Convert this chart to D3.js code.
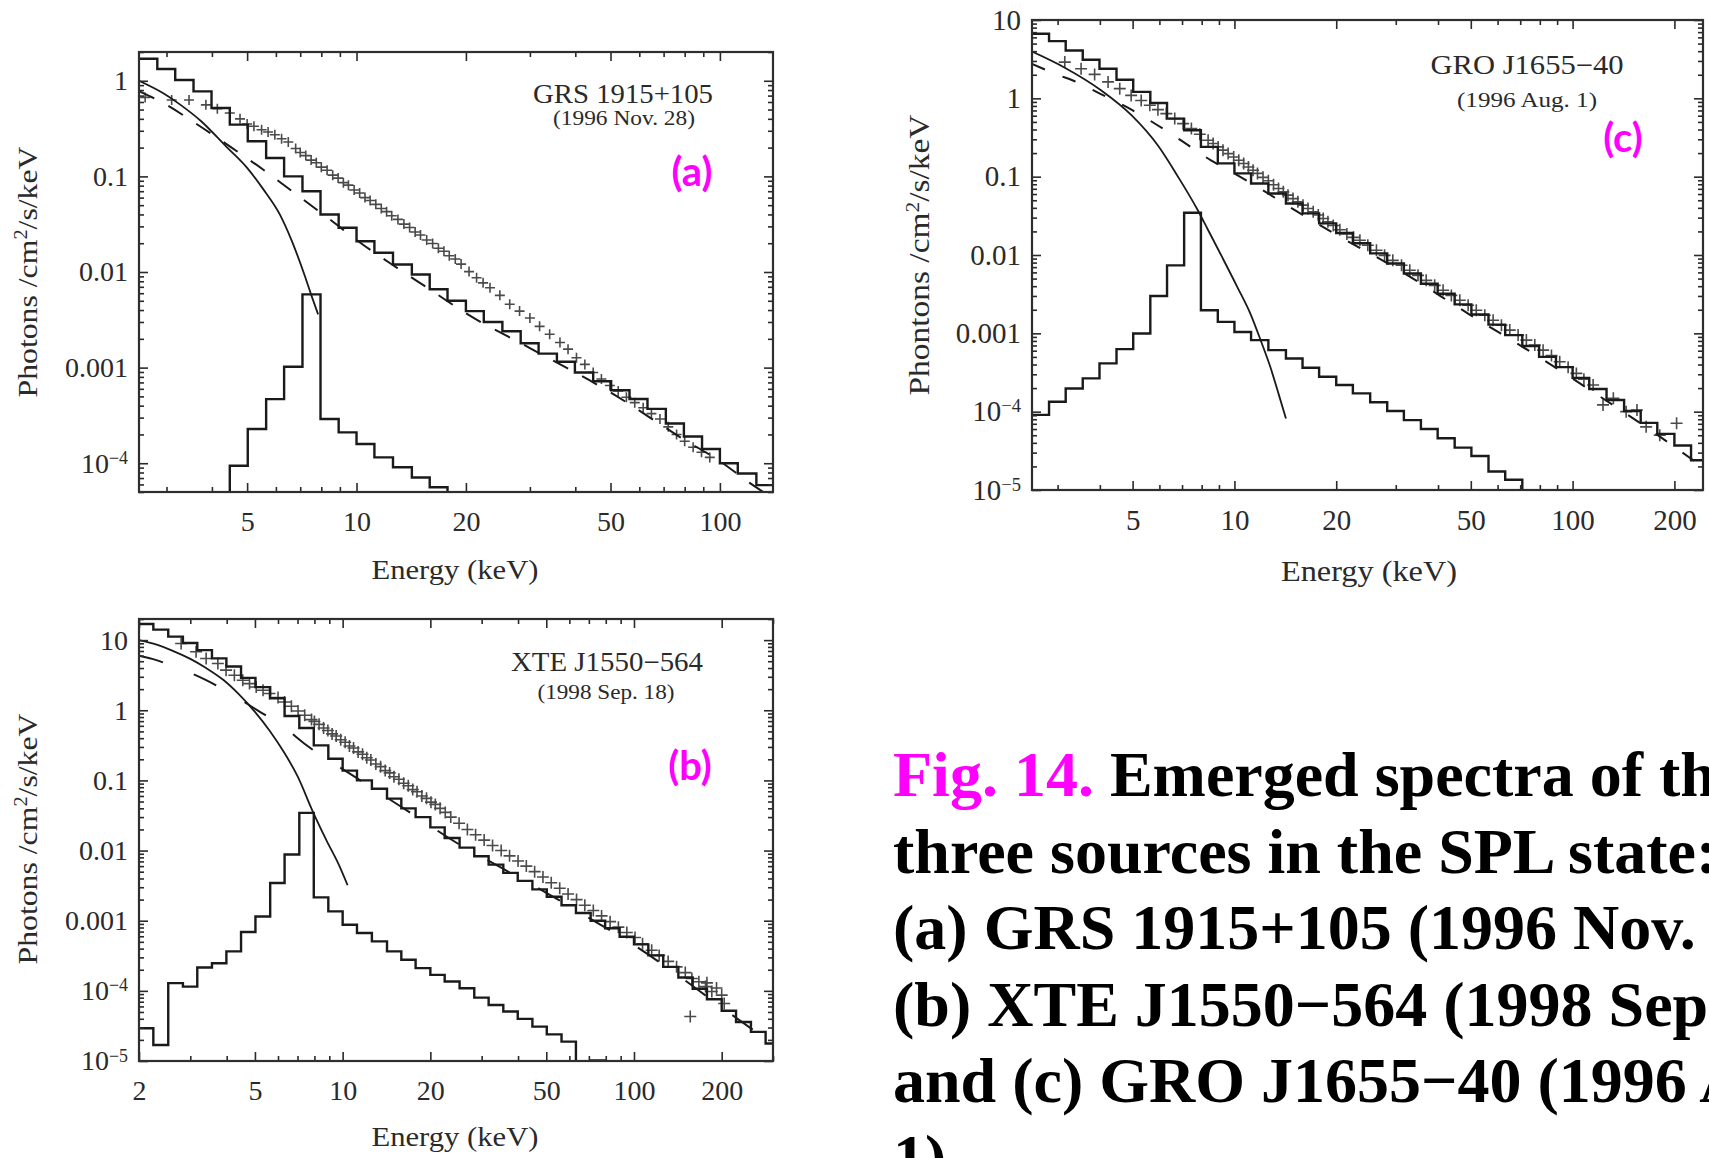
<!DOCTYPE html>
<html>
<head>
<meta charset="utf-8">
<script src="https://d3js.org/d3.v7.min.js"></script>
<style>
  body { margin: 0; background: #fff; }
  svg text { font-family: "Liberation Serif", "Times New Roman", serif; }
</style>
</head>
<body>
<svg id="fig" width="1709" height="1158"></svg>
<script>
// common energy bin edges (keV) of the model histograms
const energyEdges = [2.00, 2.24, 2.52, 2.83, 3.17, 3.56, 3.99, 4.48, 5.02, 5.64, 6.32, 7.10, 7.96, 8.93,
  10.0, 11.2, 12.6, 14.2, 15.9, 17.8, 20.0, 22.4, 25.2, 28.3, 31.7, 35.6, 39.9, 44.8, 50.2, 56.4,
  63.2, 71.0, 79.6, 89.3, 100, 112, 126, 142, 159, 178, 200, 224, 252, 283, 317, 355];

// ---- (a) GRS 1915+105
const domainA = {e: [2.52, 140], f: [5e-5, 2]};
const xTicksA = [5, 10, 20, 50, 100];
const yTicksA = [1, 0.1, 0.01, 0.001, 1e-4];
const totalA = {from: 2, flux: [1.70, 1.33, 1.02, 0.774, 0.519, 0.348, 0.233, 0.156, 0.100, 0.070, 0.040,
  0.029, 0.021, 0.0159, 0.0120, 0.0094, 0.0066, 0.0050, 0.0039, 0.0030, 0.0024, 0.0018, 0.0014, 0.00115,
  0.00089, 0.00072, 0.00058, 0.00047, 0.00037, 0.00026, 0.00019, 0.000141, 0.000100, 0.000078, 0.000059]};
const ironA = {from: 6, flux: [3.0e-5, 9.4e-5, 2.28e-4, 4.68e-4, 1.02e-3, 5.83e-3, 2.9e-4, 2.1e-4, 1.59e-4,
  1.15e-4, 9.06e-5, 7.1e-5, 5.6e-5, 3.5e-5]};
const powerA = [[2.52, 0.78], [2.94, 0.585], [3.63, 0.353], [4.48, 0.206], [5.53, 0.118], [6.84, 0.0646],
  [8.45, 0.0354], [10.4, 0.0194], [12.9, 0.0111], [15.9, 0.0066], [20, 0.0037], [30, 0.0016], [50, 0.00055],
  [80, 0.000175], [100, 0.000105], [121, 6.2e-5], [140, 4.3e-5]];
const thermalA = [[2.52, 1.0], [2.94, 0.74], [3.3, 0.55], [3.73, 0.38], [4.38, 0.205], [4.98, 0.125],
  [5.53, 0.074], [6.15, 0.040], [6.64, 0.021], [7.2, 0.0092], [7.5, 0.0058], [7.84, 0.0036]];
const crossesA = [[2.62, 0.67], [3.10, 0.63], [3.46, 0.63], [3.85, 0.56], [4.14, 0.51], [4.48, 0.46],
  [4.78, 0.40], [5.00, 0.353], [5.22, 0.334], [5.48, 0.308], [5.71, 0.291], [5.96, 0.273], [6.22, 0.248],
  [6.49, 0.229], [6.80, 0.196], [7.00, 0.178], [7.25, 0.165], [7.50, 0.148], [7.75, 0.139], [8.00, 0.125],
  [8.30, 0.116], [8.60, 0.103], [8.90, 0.096], [9.20, 0.086], [9.50, 0.081], [9.85, 0.072], [10.2, 0.067],
  [10.55, 0.060], [10.9, 0.056], [11.3, 0.051], [11.7, 0.0462], [12.1, 0.0428], [12.5, 0.0388], [13.0, 0.0355],
  [13.5, 0.0317], [14.0, 0.0292], [14.5, 0.0262], [15.0, 0.0244], [15.6, 0.0216], [16.2, 0.0199], [16.8, 0.0177],
  [17.4, 0.0165], [18.0, 0.0148], [18.7, 0.0137], [19.4, 0.0121], [20.4, 0.0101], [21.4, 0.0087], [22.3, 0.0077],
  [23.3, 0.00685], [24.8, 0.0057], [26.4, 0.0046], [28.1, 0.0039], [30.0, 0.0033], [31.9, 0.0027], [34.0, 0.00223],
  [36.3, 0.00183], [38.2, 0.00156], [40.3, 0.00127], [42.5, 0.00108], [44.8, 0.00089], [47.2, 0.00076],
  [49.8, 0.00065], [52.5, 0.00057], [55.3, 0.00049], [58.3, 0.00043], [61.5, 0.00038], [64.8, 0.00033],
  [68.4, 0.00029], [72.1, 0.00024], [76.0, 0.00020], [80.0, 0.00017], [84.4, 0.000147], [89.0, 0.00013],
  [93.8, 0.000115]];

// ---- (b) XTE J1550-564
const domainB = {e: [2, 300], f: [1e-5, 20]};
const xTicksB = [2, 5, 10, 20, 50, 100, 200];
const yTicksB = [10, 1, 0.1, 0.01, 0.001, 1e-4, 1e-5];
const totalB = {from: 0, flux: [17.0, 14.1, 11.2, 9.1, 7.2, 5.5, 4.2, 2.9, 2.14, 1.48, 0.83, 0.56, 0.316,
  0.204, 0.138, 0.100, 0.076, 0.055, 0.040, 0.030, 0.0214, 0.0151, 0.0110, 0.0083, 0.0063, 0.0048, 0.0037,
  0.0028, 0.0022, 0.00166, 0.00129, 0.00100, 0.00078, 0.00059, 0.00046, 0.00032, 0.00022, 0.000155,
  0.000107, 0.000076, 0.000052, 0.000036, 0.000026, 0.0000178]};
const ironB = {from: 0, flux: [2.93e-5, 1.69e-5, 1.29e-4, 1.15e-4, 2.15e-4, 2.48e-4, 3.65e-4, 6.89e-4, 1.15e-3,
  3.45e-3, 8.77e-3, 0.0345, 2.15e-3, 1.36e-3, 8.77e-4, 6.67e-4, 5.07e-4, 3.65e-4, 2.77e-4, 2.11e-4, 1.69e-4,
  1.36e-4, 1.09e-4, 8.0e-5, 6.3e-5, 5.07e-5, 3.98e-5, 3.09e-5, 2.4e-5, 1.89e-5, 8e-6, 1.02e-5, 6e-6]};
const powerB = [[2.0, 6.0], [2.22, 5.4], [2.6, 4.3], [3.4, 2.69], [4.2, 1.65], [5.12, 0.99], [6.2, 0.60],
  [7.5, 0.32], [8.8, 0.20], [10, 0.145], [13, 0.072], [17, 0.035], [25, 0.0124], [35, 0.0057], [50, 0.0025],
  [70, 0.0011], [100, 0.00045], [150, 0.00014], [200, 0.000058], [300, 0.0000175]];
const thermalB = [[2.0, 10.0], [2.3, 8.6], [2.6, 7.1], [3.0, 5.4], [3.4, 4.0], [3.9, 2.7], [4.4, 1.7],
  [5.0, 0.95], [5.6, 0.52], [6.3, 0.25], [7.0, 0.115], [7.9, 0.036], [8.8, 0.014], [9.7, 0.0063], [10.4, 0.0032]];
const crossesB = [[2.79, 8.96], [3.14, 6.81], [3.40, 5.47], [3.73, 4.64], [3.98, 3.73], [4.25, 3.16],
  [4.54, 2.68], [4.79, 2.40], [5.05, 2.15], [5.33, 1.93], [5.61, 1.73], [6.00, 1.52], [6.32, 1.31], [6.67, 1.14],
  [7.03, 0.977], [7.41, 0.849], [7.82, 0.736], [8.0, 0.69], [8.3, 0.63], [8.6, 0.56], [8.9, 0.515], [9.2, 0.46],
  [9.5, 0.43], [9.85, 0.38], [10.2, 0.35], [10.55, 0.31], [10.9, 0.29], [11.3, 0.255], [11.7, 0.236],
  [12.1, 0.21], [12.5, 0.195], [13.0, 0.171], [13.5, 0.157], [14.0, 0.138], [14.5, 0.128], [15.0, 0.113],
  [15.6, 0.104], [16.2, 0.091], [16.8, 0.084], [17.4, 0.074], [18.0, 0.069], [18.7, 0.060], [19.4, 0.0555],
  [20.1, 0.049], [20.8, 0.0455], [21.6, 0.040], [22.5, 0.035], [23.5, 0.030], [25.1, 0.0245], [26.8, 0.020],
  [28.6, 0.0168], [30.6, 0.0141], [32.7, 0.0118], [35.0, 0.0100], [37.4, 0.0084], [40.0, 0.0071],
  [42.7, 0.0060], [45.6, 0.0050], [48.7, 0.0042], [52.0, 0.00347], [55.6, 0.0029], [59.4, 0.0024],
  [63.5, 0.0020], [67.8, 0.00166], [72.5, 0.0014], [77.4, 0.00117], [82.8, 0.00097], [88.4, 0.00081],
  [94.5, 0.00068], [100.8, 0.000575], [107, 0.00047], [115, 0.00038], [122, 0.00032], [131, 0.000263],
  [140, 0.00022], [150, 0.000182], [158, 0.00015], [167, 0.000135], [176, 0.000115], [178, 0.00013],
  [185, 0.000098], [192, 0.00011], [200, 0.000087], [204, 0.000066], [156, 0.000043]];

// ---- (c) GRO J1655-40
const domainC = {e: [2.52, 243], f: [1e-5, 10]};
const xTicksC = [5, 10, 20, 50, 100, 200];
const yTicksC = [10, 1, 0.1, 0.01, 0.001, 1e-4, 1e-5];
const totalC = {from: 2, flux: [6.67, 5.37, 4.08, 3.11, 2.39, 1.73, 1.21, 0.873, 0.551, 0.391, 0.240, 0.148,
  0.110, 0.0818, 0.0611, 0.0455, 0.0340, 0.0253, 0.0191, 0.0141, 0.0105, 0.0078, 0.0058, 0.0043, 0.0032,
  0.00234, 0.00174, 0.00129, 0.00095, 0.00069, 0.00050, 0.00037, 0.00027, 0.000195, 0.000141, 0.000102,
  0.000072, 0.000052, 0.000037, 0.000024]};
const ironC = {from: 2, flux: [9.1e-5, 1.34e-4, 1.98e-4, 2.66e-4, 4.13e-4, 6.29e-4, 9.95e-4, 3.0e-3, 7.38e-3,
  0.0346, 1.97e-3, 1.4e-3, 1.04e-3, 8.18e-4, 6.1e-4, 4.78e-4, 3.64e-4, 2.79e-4, 2.19e-4, 1.71e-4, 1.32e-4,
  1.02e-4, 7.8e-5, 6.0e-5, 4.57e-5, 3.48e-5, 2.72e-5, 1.72e-5, 1.35e-5, 5e-6]};
const powerC = [[2.52, 2.75], [3.0, 2.0], [3.33, 1.69], [4.0, 1.15], [4.84, 0.76], [5.94, 0.45], [7.13, 0.27],
  [8.55, 0.16], [10, 0.11], [12, 0.069], [15, 0.038], [20, 0.0182], [30, 0.0068], [50, 0.0017],
  [80, 0.00049], [120, 0.000158], [170, 0.000058], [243, 0.0000195]];
const thermalC = [[2.52, 3.95], [3.15, 2.46], [4.04, 1.26], [4.96, 0.61], [5.94, 0.25], [6.81, 0.10],
  [7.8, 0.037], [8.35, 0.021], [9.15, 0.0098], [10.2, 0.0039], [11.2, 0.0017], [12.0, 0.00078],
  [12.8, 0.00036], [13.5, 0.00017], [14.2, 0.000082]];
const crossesC = [[3.15, 2.9], [3.52, 2.39], [3.86, 2.02], [4.23, 1.62], [4.58, 1.33], [4.95, 1.09],
  [5.30, 0.94], [5.62, 0.815], [5.94, 0.717], [6.29, 0.638], [6.66, 0.551], [7.05, 0.475], [7.46, 0.411],
  [7.90, 0.348], [8.36, 0.292], [8.65, 0.265], [8.95, 0.24], [9.25, 0.218], [9.58, 0.197], [9.95, 0.178],
  [10.3, 0.162], [10.65, 0.147], [11.0, 0.133], [11.35, 0.121], [11.7, 0.11], [12.15, 0.098], [12.6, 0.0885],
  [13.05, 0.079], [13.5, 0.0707], [13.95, 0.064], [14.4, 0.0581], [14.9, 0.0525], [15.4, 0.0478],
  [15.95, 0.0433], [16.5, 0.0393], [17.1, 0.0357], [17.7, 0.0324], [18.3, 0.0293], [18.9, 0.0266],
  [19.6, 0.0238], [20.5, 0.021], [21.5, 0.0185], [22.5, 0.0168], [23.5, 0.0154], [24.8, 0.0133],
  [26.3, 0.0115], [27.8, 0.0099], [29.4, 0.00855], [31.2, 0.0074], [33.0, 0.00638], [34.9, 0.0055],
  [36.9, 0.00475], [39.1, 0.0041], [41.4, 0.00355], [43.8, 0.00305], [46.4, 0.00265], [49.1, 0.00228],
  [51.9, 0.00197], [55.0, 0.0017], [58.2, 0.00147], [61.6, 0.00127], [65.2, 0.0011], [69.0, 0.00095],
  [73.0, 0.00082], [77.3, 0.00071], [81.8, 0.00061], [86.6, 0.00052], [91.6, 0.000434], [97.0, 0.00037],
  [102.6, 0.000308], [108, 0.00026], [115, 0.000219], [123, 0.000122], [132, 0.000148], [144, 0.0001],
  [155, 0.000105], [165, 0.000064], [181, 0.00005], [203, 0.000071]];

const svg = d3.select("#fig");
const defs = svg.append("defs");
const ink = "#1a1a1a";

function histPoints(h) {
  const pts = h.flux.map((f, i) => [energyEdges[h.from + i], f]);
  pts.push([energyEdges[h.from + h.flux.length], h.flux[h.flux.length - 1]]);
  return pts;
}

function drawPanel(p) {
  const x = d3.scaleLog().domain(p.dom.e).range([p.left, p.right]);
  const y = d3.scaleLog().domain(p.dom.f).range([p.bottom, p.top]);
  const g = svg.append("g");

  defs.append("clipPath").attr("id", "clip-" + p.id).append("rect")
    .attr("x", p.left).attr("y", p.top)
    .attr("width", p.right - p.left).attr("height", p.bottom - p.top);
  const plot = g.append("g").attr("clip-path", "url(#clip-" + p.id + ")");

  // data points
  const cs = p.cross;
  plot.append("path")
    .attr("d", p.crosses.map(d => {
      const cx = x(d[0]), cy = y(d[1]);
      return "M" + (cx - cs) + "," + cy + "H" + (cx + cs) + "M" + cx + "," + (cy - cs) + "V" + (cy + cs);
    }).join(""))
    .attr("fill", "none").attr("stroke", "#4a4a4a").attr("stroke-width", 1.6);

  const smooth = d3.line().x(d => x(d[0])).y(d => y(d[1])).curve(d3.curveMonotoneX);
  const step = d3.line().x(d => x(d[0])).y(d => y(d[1])).curve(d3.curveStepAfter);

  plot.append("path").attr("d", smooth(p.power))
    .attr("fill", "none").attr("stroke", ink).attr("stroke-width", 2)
    .attr("stroke-dasharray", p.dash);
  plot.append("path").attr("d", smooth(p.thermal))
    .attr("fill", "none").attr("stroke", ink).attr("stroke-width", 1.8);
  plot.append("path").attr("d", step(histPoints(p.iron)))
    .attr("fill", "none").attr("stroke", ink).attr("stroke-width", 2.4);
  plot.append("path").attr("d", step(histPoints(p.total)))
    .attr("fill", "none").attr("stroke", ink).attr("stroke-width", 2.4);

  // axes: ticks on all four sides, pointing inward
  const fs = p.fs;
  const xMinor = x.ticks().filter(v => !p.xTicks.includes(v));
  const yMinor = y.ticks().filter(v => !p.yTicks.some(t => Math.abs(t - v) / t < 1e-6));

  function axis(gen, scale, vals, len, tx, ty, labels) {
    const a = g.append("g").attr("transform", "translate(" + tx + "," + ty + ")")
      .call(gen(scale).tickValues(vals).tickSize(-len)
        .tickPadding(labels ? labels.pad : 0)
        .tickFormat(labels ? labels.fmt : ""));
    a.select(".domain").remove();
    a.attr("font-family", null).attr("font-size", fs).attr("color", "#2a2a2a");
    a.selectAll(".tick line").attr("stroke-width", 1.6);
    return a;
  }
  axis(d3.axisBottom, x, p.xTicks, 9, 0, p.bottom, {pad: 19, fmt: d => String(d)});
  axis(d3.axisBottom, x, xMinor, 5, 0, p.bottom);
  axis(d3.axisTop, x, p.xTicks, 9, 0, p.top);
  axis(d3.axisTop, x, xMinor, 5, 0, p.top);
  const left = axis(d3.axisLeft, y, p.yTicks, 9, p.left, 0, {pad: 11, fmt: d => String(d)});
  axis(d3.axisLeft, y, yMinor, 5, p.left, 0);
  axis(d3.axisRight, y, p.yTicks, 9, p.right, 0);
  axis(d3.axisRight, y, yMinor, 5, p.right, 0);

  left.selectAll(".tick text").each(function(d) {
    const ex = Math.round(Math.log10(d));
    if (ex <= -4) {
      const t = d3.select(this).text(null);
      t.append("tspan").text("10");
      t.append("tspan").attr("dy", "-0.5em").attr("font-size", fs * 0.64).text("\u2212" + (-ex));
    }
  });

  g.append("rect")
    .attr("x", p.left).attr("y", p.top)
    .attr("width", p.right - p.left).attr("height", p.bottom - p.top)
    .attr("fill", "none").attr("stroke", "#2e2e2e").attr("stroke-width", 2.2);

  // titles
  const yt = g.append("text")
    .attr("transform", "translate(" + p.ylab[0] + "," + p.ylab[1] + ") rotate(-90)")
    .attr("text-anchor", "middle").attr("font-size", fs).attr("fill", "#2a2a2a")
    .attr("textLength", p.ylab[2]).attr("lengthAdjust", "spacingAndGlyphs");
  yt.append("tspan").text(p.yword + " /cm");
  yt.append("tspan").attr("dy", -10).attr("font-size", fs * 0.64).text("2");
  yt.append("tspan").attr("dy", 10).text("/s/keV");

  g.append("text").attr("x", p.xlab[0]).attr("y", p.xlab[1])
    .attr("text-anchor", "middle").attr("font-size", fs).attr("fill", "#2a2a2a")
    .attr("textLength", p.xlab[2]).attr("lengthAdjust", "spacingAndGlyphs")
    .text("Energy (keV)");

  // source name and date
  g.append("text").attr("x", p.name[0]).attr("y", p.name[1])
    .attr("text-anchor", "middle").attr("font-size", 27).attr("fill", "#2a2a2a")
    .attr("textLength", p.name[2]).attr("lengthAdjust", "spacingAndGlyphs")
    .text(p.source);
  g.append("text").attr("x", p.date[0]).attr("y", p.date[1])
    .attr("text-anchor", "middle").attr("font-size", 20).attr("fill", "#2a2a2a")
    .attr("textLength", p.date[2]).attr("lengthAdjust", "spacingAndGlyphs")
    .text(p.when);

  g.append("text").attr("x", p.tag[0]).attr("y", p.tag[1])
    .attr("text-anchor", "middle")
    .style("font-family", "Lato, 'Open Sans', sans-serif").attr("font-weight", 700)
    .attr("font-size", 40).attr("fill", "#ff00ff")
    .text(p.letter);
}

drawPanel({
  id: "a", dom: domainA, xTicks: xTicksA, yTicks: yTicksA,
  total: totalA, iron: ironA, power: powerA, thermal: thermalA, crosses: crossesA,
  left: 139, right: 773, top: 52, bottom: 492, fs: 28, dash: "17,16", cross: 5,
  yword: "Photons", ylab: [37, 272, 251], xlab: [455, 579, 167],
  source: "GRS 1915+105", when: "(1996 Nov. 28)", name: [623, 103, 180], date: [624, 125, 142],
  letter: "(a)", tag: [692, 186]
});
drawPanel({
  id: "b", dom: domainB, xTicks: xTicksB, yTicks: yTicksB,
  total: totalB, iron: ironB, power: powerB, thermal: thermalB, crosses: crossesB,
  left: 139, right: 773, top: 619, bottom: 1061, fs: 28, dash: "25,33", cross: 6,
  yword: "Photons", ylab: [37, 839, 251], xlab: [455, 1146, 167],
  source: "XTE J1550\u2212564", when: "(1998 Sep. 18)", name: [607, 671, 192], date: [606, 699, 137],
  letter: "(b)", tag: [690, 780]
});
drawPanel({
  id: "c", dom: domainC, xTicks: xTicksC, yTicks: yTicksC,
  total: totalC, iron: ironC, power: powerC, thermal: thermalC, crosses: crossesC,
  left: 1032, right: 1703, top: 20, bottom: 490, fs: 29, dash: "14,19", cross: 6,
  yword: "Phontons", ylab: [929, 255, 281], xlab: [1369, 581, 176],
  source: "GRO J1655\u221240", when: "(1996 Aug. 1)", name: [1527, 74, 193], date: [1527, 107, 140],
  letter: "(c)", tag: [1623, 152]
});

// figure caption (runs past the right edge, as in the source page)
const captionLines = [
  ["Fig. 14.", " Emerged spectra of the"],
  ["", "three sources in the SPL state:"],
  ["", "(a) GRS 1915+105 (1996 Nov. 28),"],
  ["", "(b) XTE J1550\u2212564 (1998 Sep. 18),"],
  ["", "and (c) GRO J1655\u221240 (1996 Aug."],
  ["", "1)."]
];
const cap = svg.append("g");
captionLines.forEach((ln, i) => {
  const t = cap.append("text").attr("x", 893).attr("y", 796 + i * 76.6)
    .attr("font-size", 64).attr("font-weight", 700).attr("fill", "#000");
  if (ln[0]) t.append("tspan").attr("fill", "#ff00ff").text(ln[0]);
  t.append("tspan").text(ln[1]);
});
</script>
</body>
</html>
